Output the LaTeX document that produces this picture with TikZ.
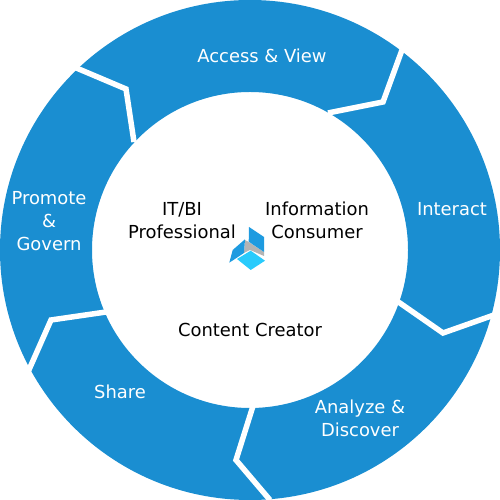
\documentclass[tikz,border=0pt]{standalone}
\usepackage{fontspec}
\setmainfont{DejaVu Sans}
\usetikzlibrary{arrows.meta}
\definecolor{ringblue}{HTML}{1A8ED1}
\definecolor{cubeblue}{HTML}{1E9BE0}
\definecolor{cubelight}{HTML}{29CBFC}
\definecolor{cubegrey}{HTML}{B4B4B4}
\tikzset{
    cycle/.style={
        stage/.style={text=white, font=\fontsize{5.1pt}{6.5pt}\selectfont, align=center, inner sep=0pt},
        role/.style={text=black, font=\fontsize{5.1pt}{6.5pt}\selectfont, align=center, inner sep=0pt},
        gap/.style={draw=white, line width=0.55mm, line join=miter},
    },
}

\begin{document}
\begin{tikzpicture}[cycle]
            \useasboundingbox (-2.5,-2.5) rectangle (2.5,2.5);
            % ring
            \fill[ringblue, even odd rule] (0,0) circle (2.5) (0,0) circle (1.58);
            % separators
            \coordinate (a1) at (-1.76,1.83);
            \coordinate (a2) at (-1.24,1.61);
            \coordinate (a3) at (-1.16,1.08);
            \coordinate (b1) at (1.52,2.00);
            \coordinate (b2) at (1.33,1.48);
            \coordinate (b3) at (0.78,1.37);
            \coordinate (c1) at (2.44,-0.65);
            \coordinate (c2) at (1.93,-0.83);
            \coordinate (c3) at (1.47,-0.51);
            \coordinate (d1) at (0.20,-2.50);
            \coordinate (d2) at (-0.14,-2.10);
            \coordinate (d3) at (0.03,-1.56);
            \coordinate (e1) at (-2.22,-1.22);
            \coordinate (e2) at (-1.99,-0.70);
            \coordinate (e3) at (-1.44,-0.62);
            \draw[gap] (a1) -- (a2) -- (a3);
            \draw[gap] (b1) -- (b2) -- (b3);
            \draw[gap] (c1) -- (c2) -- (c3);
            \draw[gap] (d1) -- (d2) -- (d3);
            \draw[gap] (e1) -- (e2) -- (e3);
            % icon
            \fill[cubegrey] (-0.05,0.10) -- (-0.013,0.08) -- (0.14,-0.02) -- (0.14,-0.06) -- (0.0,0.0) -- (-0.06,-0.03) -- cycle;
            \fill[cubeblue] (-0.207,-0.127) -- (-0.173,0) -- (-0.05,0.107) -- (-0.06,-0.03) -- cycle;
            \fill[cubeblue] (-0.01,0.23) -- (0.14,0.13) -- (0.14,-0.02) -- (-0.013,0.083) -- cycle;
            \fill[cubelight] (-0.13,-0.09) -- (0.007,-0.007) -- (0.15,-0.107) -- (0.007,-0.20) -- cycle;
            % labels
            \node[stage] (access)   at (0.12,1.94)   {Access \& View};
            \node[stage] (interact) at (2.02,0.41)   {Interact};
            \node[stage] (analyze)  at (1.10,-1.68)  {Analyze \&\\ Discover};
            \node[stage] (share)    at (-1.30,-1.42) {Share};
            \node[stage] (promote)  at (-2.01,0.29)  {Promote\\\&\\Govern};
            \node[role]  (itbi)     at (-0.68,0.29)  {IT/BI\\Professional};
            \node[role]  (info)     at (0.67,0.30)   {Information\\Consumer};
            \node[role]  (creator)  at (0.0,-0.80)   {Content Creator};
        \end{tikzpicture}
\end{document}
